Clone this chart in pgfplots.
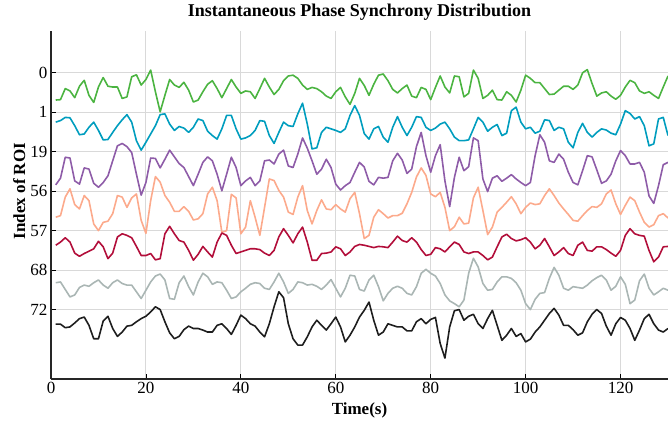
\documentclass[border=0pt]{standalone}
\usepackage{fontspec}
\setmainfont{Liberation Serif}
\usepackage{pgfplots}
\usepackage{pgfplotstable}
\pgfplotsset{compat=1.18}
\definecolor{cA}{RGB}{75,180,65}
\definecolor{cB}{RGB}{0,157,190}
\definecolor{cC}{RGB}{142,92,168}
\definecolor{cD}{RGB}{252,170,140}
\definecolor{cE}{RGB}{178,14,58}
\definecolor{cF}{RGB}{170,182,180}
\definecolor{cG}{RGB}{30,30,30}
\pgfplotstableread{
t A B C D E F G
1 6.31 5.75 4.16 3.34 2.63 1.68 0.63
2 6.32 5.79 4.33 3.38 2.71 1.70 0.63
3 6.60 5.87 4.86 3.85 2.82 1.51 0.54
4 6.54 5.86 4.84 4.06 2.71 1.32 0.56
5 6.37 5.66 4.26 3.66 2.43 1.37 0.66
6 6.66 5.43 4.18 3.55 2.35 1.56 0.77
7 6.81 5.45 4.59 3.89 2.42 1.62 0.81
8 6.43 5.62 4.56 3.76 2.48 1.59 0.60
9 6.25 5.75 4.20 3.17 2.54 1.68 0.26
10 6.64 5.54 4.10 3.00 2.73 1.75 0.26
11 6.88 5.30 4.22 3.21 2.59 1.62 0.71
12 6.66 5.31 4.39 3.24 2.29 1.54 0.83
13 6.64 5.49 4.77 3.43 2.43 1.68 0.52
14 6.64 5.66 5.15 3.89 2.84 1.75 0.32
15 6.35 5.81 5.21 3.85 2.92 1.66 0.43
16 6.39 5.94 5.13 3.59 2.88 1.62 0.58
17 6.90 5.75 4.98 3.83 2.82 1.62 0.60
18 6.95 5.28 4.43 3.93 2.60 1.45 0.69
19 6.69 5.04 3.90 3.26 2.37 1.28 0.77
20 6.83 5.24 4.22 2.93 2.37 1.49 0.83
21 7.07 5.45 4.84 3.76 2.42 1.70 0.94
22 6.52 5.66 4.83 4.37 2.26 1.85 1.07
23 6.01 5.94 4.59 4.23 2.29 1.90 1.00
24 6.43 5.96 4.81 3.89 2.92 1.75 0.69
25 6.83 5.70 5.04 3.72 3.11 1.28 0.41
26 6.69 5.54 4.87 3.49 2.92 1.26 0.26
27 6.63 5.64 4.70 3.49 2.75 1.68 0.32
28 6.76 5.60 4.60 3.61 2.71 1.85 0.49
29 6.56 5.49 4.37 3.49 2.50 1.58 0.58
30 6.26 5.62 4.14 3.27 2.25 1.37 0.52
31 6.31 5.83 4.43 3.30 2.40 1.70 0.52
32 6.52 5.79 4.73 3.43 2.60 1.92 0.48
33 6.71 5.52 4.87 3.93 2.46 1.83 0.43
34 6.80 5.41 4.77 4.10 2.33 1.64 0.43
35 6.60 5.32 4.43 3.76 2.71 1.70 0.60
36 6.37 5.58 4.01 2.96 2.94 1.68 0.64
37 6.60 5.92 4.43 3.00 2.88 1.49 0.52
38 6.83 5.92 4.86 3.92 2.63 1.28 0.37
39 6.64 5.58 4.60 3.83 2.42 1.32 0.60
40 6.48 5.32 4.14 2.92 2.46 1.45 0.86
41 6.54 5.35 4.26 3.09 2.50 1.54 0.77
42 6.52 5.41 4.35 3.76 2.54 1.64 0.64
43 6.35 5.54 4.14 3.34 2.54 1.68 0.58
44 6.60 5.79 4.26 2.88 2.52 1.66 0.43
45 6.86 5.77 4.77 3.59 2.43 1.54 0.31
46 6.64 5.41 4.79 4.31 2.37 1.51 0.64
47 6.45 5.21 4.69 4.27 2.50 1.70 1.07
48 6.58 5.49 4.94 4.02 2.84 1.92 1.45
49 6.80 5.75 5.04 3.85 3.05 1.70 1.30
50 6.92 5.66 4.64 3.47 2.88 1.41 0.64
51 6.94 5.64 4.60 3.41 2.69 1.51 0.26
52 6.86 5.96 4.94 3.85 2.92 1.70 0.10
53 6.69 6.23 5.35 4.14 3.09 1.68 0.10
54 6.58 5.70 5.09 3.51 2.71 1.62 0.31
55 6.63 5.07 4.77 3.17 2.25 1.64 0.56
56 6.60 5.10 4.43 3.51 2.25 1.59 0.73
57 6.52 5.49 4.56 3.78 2.42 1.51 0.60
58 6.41 5.62 4.81 3.55 2.43 1.62 0.48
59 6.35 5.58 4.60 3.53 2.46 1.76 0.64
60 6.52 5.54 4.18 3.66 2.59 1.54 0.81
61 6.63 5.49 4.03 3.55 2.54 1.32 0.56
62 6.39 5.58 4.14 3.47 2.37 1.54 0.18
63 6.20 5.92 4.22 3.81 2.46 1.87 0.35
64 6.48 6.17 4.48 3.97 2.60 1.85 0.56
65 6.86 5.92 4.73 3.43 2.65 1.51 0.81
66 6.68 5.46 4.61 2.80 2.63 1.47 0.98
67 6.43 5.32 4.25 2.88 2.60 1.75 1.19
68 6.71 5.58 4.16 3.34 2.57 1.87 0.73
69 6.94 5.64 4.35 3.53 2.60 1.58 0.35
70 6.97 5.37 4.33 3.43 2.59 1.22 0.43
71 6.80 5.24 4.35 3.32 2.57 1.41 0.64
72 6.58 5.62 4.77 3.38 2.71 1.54 0.60
73 6.49 5.89 4.96 3.38 2.86 1.59 0.56
74 6.60 5.62 4.79 3.44 2.75 1.54 0.56
75 6.69 5.41 4.45 3.68 2.71 1.41 0.46
76 6.41 5.62 4.56 3.97 2.82 1.37 0.46
77 6.37 5.89 5.13 4.36 2.71 1.58 0.69
78 6.63 5.87 5.49 4.59 2.52 1.92 0.77
79 6.58 5.62 4.90 4.40 2.37 2.02 0.64
80 6.32 5.54 4.48 3.93 2.40 1.92 0.75
81 6.63 5.60 4.90 3.86 2.57 1.85 0.80
82 6.92 5.70 5.18 3.97 2.54 1.66 0.14
83 6.64 5.75 4.26 3.59 2.46 1.37 -0.23
84 6.49 5.58 3.61 3.00 2.59 1.22 0.56
85 6.92 5.37 4.35 3.10 2.71 1.15 0.97
86 6.90 5.28 4.86 3.34 2.65 1.07 1.00
87 6.39 5.28 4.52 3.17 2.46 1.24 0.73
88 6.48 5.30 4.62 3.19 2.42 1.92 0.83
89 7.07 5.58 5.35 3.83 2.46 2.30 0.88
90 6.86 5.87 5.28 4.10 2.46 2.08 0.64
91 6.35 5.75 4.31 3.51 2.37 1.66 0.52
92 6.43 5.52 3.99 2.90 2.26 1.49 0.77
93 6.56 5.62 4.33 3.09 2.33 1.51 0.98
94 6.32 5.69 4.39 3.47 2.59 1.70 0.60
95 6.31 5.41 4.25 3.59 2.84 1.83 0.22
96 6.52 5.47 4.33 3.72 2.91 1.83 0.35
97 6.43 6.04 4.42 3.86 2.80 1.79 0.52
98 6.26 6.13 4.31 3.68 2.74 1.68 0.32
99 6.56 5.75 4.22 3.43 2.77 1.49 0.39
100 6.94 5.58 4.14 3.59 2.82 1.15 0.18
101 6.86 5.62 4.22 3.70 2.71 1.00 0.25
102 6.75 5.47 4.90 3.66 2.54 1.26 0.43
103 6.75 5.52 5.43 3.68 2.63 1.41 0.56
104 6.60 5.81 5.24 3.89 2.80 1.43 0.73
105 6.45 5.79 4.77 4.06 2.59 1.79 0.90
106 6.46 5.54 4.73 3.89 2.37 2.07 1.03
107 6.56 5.62 4.94 3.70 2.46 1.87 0.86
108 6.66 5.58 4.81 3.55 2.57 1.54 0.60
109 6.66 5.24 4.48 3.41 2.42 1.49 0.60
110 6.58 5.10 4.22 3.26 2.37 1.58 0.49
111 6.69 5.49 4.16 3.24 2.63 1.56 0.35
112 7.00 5.72 4.52 3.38 2.71 1.54 0.41
113 7.08 5.49 4.90 3.51 2.50 1.62 0.69
114 6.73 5.37 4.87 3.61 2.48 1.73 0.88
115 6.41 5.49 4.54 3.59 2.59 1.81 1.00
116 6.49 5.58 4.20 3.68 2.59 1.87 0.90
117 6.52 5.55 4.26 3.93 2.52 1.75 0.58
118 6.41 5.47 4.43 4.03 2.43 1.49 0.35
119 6.33 5.43 4.77 3.68 2.35 1.59 0.64
120 6.43 5.70 5.03 3.41 2.50 1.83 0.80
121 6.64 6.04 4.90 3.64 2.88 1.64 0.73
122 6.81 5.97 4.69 3.85 3.05 1.15 0.52
123 6.75 5.83 4.69 3.76 2.92 1.24 0.22
124 6.54 5.89 4.73 3.47 2.88 1.73 0.48
125 6.48 5.66 4.48 3.21 2.86 1.90 0.77
126 6.52 5.15 3.88 3.09 2.50 1.54 0.88
127 6.43 5.20 3.69 3.15 2.21 1.37 0.64
128 6.35 5.83 4.14 3.38 2.33 1.45 0.48
129 6.64 5.87 4.67 3.43 2.59 1.54 0.43
130 6.92 5.41 4.73 3.32 2.60 1.49 0.52
}\datatable
\newcommand{\fs}{\fontsize{17bp}{20bp}\selectfont}
\newcommand{\ft}{\fontsize{18bp}{22bp}\selectfont}
\begin{document}
\begin{tikzpicture}
\begin{axis}[
  width=617bp, height=348bp, scale only axis,
  xmin=0, xmax=130, ymin=-0.76, ymax=8.06,
  xtick={0,20,...,120},
  ytick={1,2,3,4,5,6,7},
  yticklabels={72,68,57,56,19,1,0},
  axis x line*=bottom, axis y line*=left,
  tick align=inside, major tick length=5bp,
  tick style={black, line width=0.8pt},
  axis line style={line width=1.1pt, black!85},
  grid=major, grid style={black!15, line width=0.9pt},
  /pgf/number format/assume math mode=true,
  tick label style={font=\fs},
  title={\textbf{Instantaneous Phase Synchrony Distribution}},
  title style={font=\ft, at={(axis description cs:0.5,1.025)}, anchor=base},
  xlabel={\textbf{Time(s)}},
  xlabel style={font=\fs, at={(axis description cs:0.5,-0.103)}, anchor=base},
  ylabel={\textbf{Index of ROI}},
  ylabel style={font=\fs, at={(axis description cs:-0.042,0.54)}, anchor=base},
  every axis plot/.append style={line width=1.6pt, mark=none, line join=round},
]
\addplot[cA] table[x=t, y=A] {\datatable};
\addplot[cB] table[x=t, y=B] {\datatable};
\addplot[cC] table[x=t, y=C] {\datatable};
\addplot[cD] table[x=t, y=D] {\datatable};
\addplot[cE] table[x=t, y=E] {\datatable};
\addplot[cF] table[x=t, y=F] {\datatable};
\addplot[cG] table[x=t, y=G] {\datatable};
\end{axis}
\pgfresetboundingbox
\path (-51bp,-45bp) rectangle (617bp,379bp);
\end{tikzpicture}
\end{document}
